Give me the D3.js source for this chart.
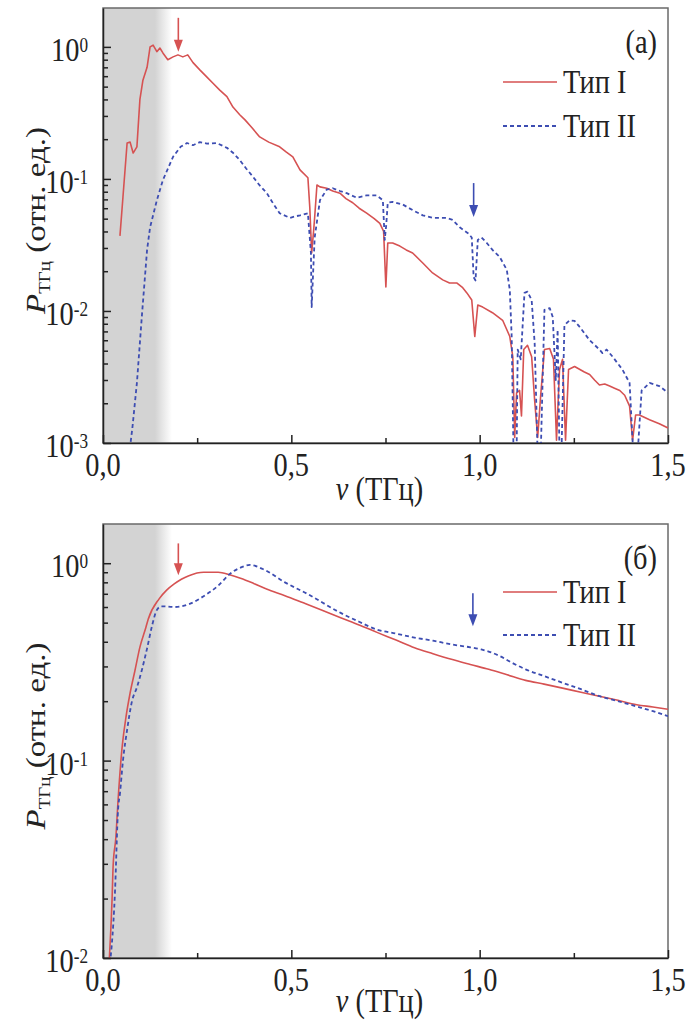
<!DOCTYPE html>
<html>
<head>
<meta charset="utf-8">
<script src="https://cdn.jsdelivr.net/npm/d3@7"></script>
<style>
  body { margin: 0; background: #fff; }
  svg { display: block; }
</style>
</head>
<body>
<div id="container"></div>
<script>
let w = 687;
let h = 1021;
let left = 103;
let right = 668;
let serifFont = "'Liberation Serif', 'Times New Roman', Tinos, 'Nimbus Roman'";
let fs = 33;       // font size
let squeeze = 0.86; // the original figure is a bit narrow, so are its letters

// ---- panel (a): spectra, type I (solid red) and type II (dashed blue)
let nuA1 = [0.045,0.053,0.064,0.072,0.080,0.090,0.098,0.106,0.117,0.125,0.133,0.143,0.151,0.159,0.172,0.186,0.199,0.212,0.225,0.239,0.257,0.276,0.292,0.310,0.329,0.345,0.363,0.377,0.395,0.416,0.440,0.469,0.486,0.504,0.523,0.544,0.549,0.554,0.559,0.562,0.568,0.576,0.594,0.610,0.629,0.645,0.663,0.680,0.700,0.720,0.735,0.745,0.751,0.756,0.769,0.788,0.805,0.822,0.849,0.875,0.902,0.920,0.939,0.955,0.966,0.979,0.987,0.995,1.008,1.034,1.061,1.080,1.088,1.093,1.098,1.106,1.111,1.117,1.127,1.138,1.146,1.154,1.162,1.172,1.186,1.196,1.204,1.212,1.220,1.228,1.236,1.252,1.278,1.292,1.305,1.318,1.332,1.345,1.358,1.372,1.385,1.398,1.406,1.414,1.424,1.451,1.477,1.500];
let pA1 = [0.037,0.073,0.187,0.19,0.157,0.175,0.40,0.56,0.70,1.0,1.03,0.92,0.98,0.90,0.80,0.84,0.87,0.84,0.87,0.76,0.67,0.59,0.53,0.47,0.42,0.35,0.306,0.28,0.245,0.208,0.19,0.175,0.16,0.147,0.117,0.102,0.061,0.0275,0.04,0.0515,0.090,0.087,0.085,0.081,0.078,0.071,0.066,0.060,0.055,0.050,0.046,0.040,0.0152,0.0327,0.0327,0.031,0.029,0.0275,0.0231,0.0194,0.0172,0.0163,0.0163,0.015,0.0137,0.0121,0.0064,0.0111,0.0107,0.0097,0.0085,0.0064,0.0045,0.0011,0.0024,0.0025,0.0016,0.0051,0.0055,0.0045,0.0021,0.0011,0.0023,0.0051,0.0052,0.0043,0.00105,0.0036,0.0043,0.00105,0.0036,0.0038,0.00345,0.0033,0.0030,0.00275,0.0028,0.0027,0.0026,0.0025,0.0023,0.0019,0.00105,0.00163,0.00163,0.0015,0.0014,0.0013];

let nuA2 = [0.069,0.078,0.090,0.103,0.117,0.125,0.143,0.159,0.186,0.206,0.223,0.239,0.257,0.276,0.302,0.329,0.345,0.363,0.380,0.398,0.415,0.435,0.452,0.469,0.496,0.510,0.523,0.544,0.552,0.554,0.558,0.562,0.576,0.594,0.610,0.629,0.647,0.674,0.700,0.727,0.743,0.748,0.752,0.756,0.769,0.796,0.822,0.849,0.875,0.912,0.928,0.947,0.968,0.979,0.984,0.989,0.995,1.005,1.019,1.034,1.053,1.072,1.080,1.085,1.090,1.098,1.101,1.109,1.119,1.127,1.138,1.146,1.154,1.162,1.172,1.186,1.194,1.202,1.207,1.212,1.217,1.225,1.239,1.252,1.265,1.292,1.318,1.326,1.337,1.353,1.379,1.398,1.408,1.419,1.430,1.451,1.477,1.500];
let pA2 = [0.0008,0.0013,0.00285,0.009,0.029,0.043,0.069,0.098,0.147,0.175,0.187,0.18,0.19,0.185,0.187,0.172,0.158,0.139,0.12,0.104,0.09,0.078,0.065,0.055,0.0507,0.052,0.053,0.055,0.0275,0.0107,0.02,0.036,0.069,0.083,0.085,0.081,0.078,0.072,0.075,0.075,0.069,0.0345,0.045,0.066,0.067,0.064,0.058,0.053,0.0507,0.0507,0.049,0.043,0.039,0.036,0.018,0.017,0.0345,0.036,0.0327,0.029,0.0257,0.0205,0.0144,0.0064,0.0008,0.0008,0.0051,0.0043,0.0137,0.014,0.0121,0.0057,0.0008,0.0008,0.0102,0.0105,0.009,0.003,0.0072,0.0008,0.0008,0.0078,0.0085,0.0084,0.0076,0.006,0.0051,0.0048,0.0051,0.0045,0.0036,0.00285,0.0008,0.0008,0.0025,0.00285,0.0027,0.0024];

// ---- panel (б)
let nuB1 = [0.014,0.024,0.027,0.034,0.040,0.050,0.061,0.072,0.085,0.098,0.114,0.120,0.149,0.169,0.189,0.208,0.228,0.267,0.306,0.336,0.365,0.400,0.434,0.483,0.532,0.580,0.631,0.680,0.729,0.778,0.827,0.876,0.925,0.975,1.024,1.073,1.122,1.171,1.220,1.269,1.318,1.367,1.417,1.460,1.500];
let pB1 = [0.008,0.0197,0.0296,0.0405,0.063,0.113,0.166,0.22,0.287,0.376,0.474,0.52,0.66,0.73,0.785,0.83,0.865,0.90,0.90,0.875,0.84,0.79,0.74,0.685,0.63,0.58,0.53,0.487,0.445,0.408,0.373,0.348,0.326,0.307,0.29,0.272,0.255,0.244,0.233,0.222,0.212,0.202,0.192,0.187,0.182];

let nuB2 = [0.014,0.032,0.040,0.045,0.053,0.064,0.077,0.090,0.103,0.117,0.130,0.143,0.155,0.189,0.228,0.267,0.306,0.336,0.365,0.390,0.424,0.483,0.542,0.631,0.680,0.729,0.778,0.827,0.876,0.925,0.975,1.004,1.053,1.090,1.122,1.171,1.220,1.269,1.318,1.367,1.417,1.460,1.500];
let pB2 = [0.008,0.022,0.0565,0.068,0.10,0.143,0.20,0.235,0.287,0.37,0.48,0.58,0.605,0.60,0.62,0.68,0.77,0.88,0.95,0.98,0.935,0.80,0.70,0.56,0.505,0.46,0.44,0.42,0.405,0.388,0.375,0.366,0.339,0.31,0.29,0.268,0.248,0.23,0.212,0.20,0.188,0.178,0.168];

let seriesNames = ["Тип I", "Тип II"];
let seriesColors = ["#d65252", "#3d4db2"];
let panelLetters = ["(a)", "(б)"];
let xTicks = [0, 0.5, 1.0, 1.5];
let xMinorTicks = [0.25, 0.75, 1.25];
let shade = [0.138, 0.183]; // grey band fades out between these frequencies

// arrows: frequency, start and end value
let arrowsA = [{nu: 0.2, from: 1.66, to: 0.92, s: 0}, {nu: 0.984, from: 0.093, to: 0.0515, s: 1}];
let arrowsB = [{nu: 0.2, from: 1.26, to: 0.87, s: 0}, {nu: 0.982, from: 0.705, to: 0.48, s: 1}];

let svg = d3.select("#container")
  .append("svg")
    .attr("width", w)
    .attr("height", h)
    .attr("font-family", "Liberation Serif")
    .style("background-color", "white");

// every text goes through here: serif face, squeezed sideways
function addText(parent, tx, ty, transform){
  let holder = parent.append("g")
    .attr("transform", transform || ("translate(" + tx + "," + ty + ") scale(" + squeeze + ",1)"));
  return holder.append("text")
    .attr("font-family", "Liberation Serif")
    .style("font-family", serifFont)
    .attr("font-size", fs)
    .attr("fill", "#222");
}

let x = d3.scaleLinear().domain([0, 1.5]).range([left, right]);

let defs = svg.append("defs");
let grad = defs.append("linearGradient")
  .attr("id", "shadeGrad")
  .attr("gradientUnits", "userSpaceOnUse")
  .attr("x1", x(shade[0])).attr("x2", x(shade[1]))
  .attr("y1", 0).attr("y2", 0);
grad.append("stop").attr("offset", 0).attr("stop-color", "#d3d3d3");
grad.append("stop").attr("offset", 1).attr("stop-color", "#ffffff");

let comma = d3.formatLocale({decimal: ",", thousands: " ", grouping: [3], currency: ["", ""]}).format(".1f");

function drawPanel(cfg, idx){
  let top = cfg.top, bottom = cfg.bottom;
  let y = d3.scaleLog().domain(cfg.yDomain).range([bottom, top]);
  let g = svg.append("g");

  defs.append("clipPath").attr("id", "clip" + idx)
    .append("rect")
      .attr("x", left).attr("y", top)
      .attr("width", right - left).attr("height", bottom - top);

  // grey band
  g.append("rect")
    .attr("x", x(0)).attr("y", top)
    .attr("width", x(shade[1]) - x(0))
    .attr("height", bottom - top)
    .attr("fill", "url(#shadeGrad)");

  // frame
  g.append("rect")
    .attr("x", left).attr("y", top)
    .attr("width", right - left).attr("height", bottom - top)
    .attr("fill", "none")
    .attr("stroke", "#6a6a6a")
    .attr("stroke-width", 1.5);

  // curves
  let line = d3.line()
    .x(function(d){ return x(d[0]); })
    .y(function(d){ return y(d[1]); })
    .curve(cfg.curve);

  let plot = g.append("g").attr("clip-path", "url(#clip" + idx + ")");
  cfg.series.forEach(function(s, i){
    plot.append("path")
      .datum(d3.zip(s[0], s[1]))
      .attr("d", line)
      .attr("fill", "none")
      .attr("stroke", seriesColors[i])
      .attr("stroke-width", i == 0 ? 1.6 : 1.8)
      .attr("stroke-dasharray", i == 0 ? null : "4,3")
      .attr("stroke-linejoin", "round");
  });

  // y axis (log), ticks inward, labels by hand for the superscripts
  let lo = Math.round(Math.log10(cfg.yDomain[0]));
  let majors = [];
  let minors = [];
  for(let k = lo; k <= 0; k++){
    majors.push(Math.pow(10, k));
    for(let m = 2; m <= 9; m++){
      let v = m * Math.pow(10, k);
      if(v < cfg.yDomain[1]) minors.push(v);
    }
  }
  let yAxisGroup = g.append("g").attr("transform", "translate(" + left + ",0)");
  yAxisGroup.call(d3.axisLeft(y).tickValues(majors).tickSizeInner(-8).tickSizeOuter(0).tickFormat(""));
  let yMinorGroup = g.append("g").attr("transform", "translate(" + left + ",0)");
  yMinorGroup.call(d3.axisLeft(y).tickValues(minors).tickSizeInner(-5).tickSizeOuter(0).tickFormat(""));
  yMinorGroup.select(".domain").remove();
  [yAxisGroup, yMinorGroup].forEach(function(a){
    a.selectAll("text").remove();
    a.selectAll("line").attr("stroke", "#222").attr("stroke-width", 1.5);
    a.select(".domain").attr("stroke", "#222").attr("stroke-width", 1.5);
  });
  majors.forEach(function(d){
    let t = addText(g, left - 15, y(d) + 14)
      .attr("text-anchor", "end");
    t.append("tspan").text("10");
    t.append("tspan").attr("dy", "-0.45em").attr("font-size", 20).text(Math.round(Math.log10(d)));
  });

  // x axis, ticks inward
  let xAxisGroup = g.append("g").attr("transform", "translate(0," + bottom + ")");
  xAxisGroup.call(d3.axisBottom(x).tickValues(xTicks).tickSizeInner(-8).tickSizeOuter(0).tickFormat(""));
  let xMinorGroup = g.append("g").attr("transform", "translate(0," + bottom + ")");
  xMinorGroup.call(d3.axisBottom(x).tickValues(xMinorTicks).tickSizeInner(-5).tickSizeOuter(0).tickFormat(""));
  xMinorGroup.select(".domain").remove();
  [xAxisGroup, xMinorGroup].forEach(function(a){
    a.selectAll("text").remove();
    a.selectAll("line").attr("stroke", "#222").attr("stroke-width", 1.5);
    a.select(".domain").attr("stroke", "#222").attr("stroke-width", 1.5);
  });
  xTicks.forEach(function(d){
    addText(g, x(d), bottom + 33)
      .attr("text-anchor", "middle")
      .text(comma(d));
  });

  // axis titles
  let xt = addText(g, (left + right) / 2 - 6, bottom + cfg.titleDy)
    .attr("text-anchor", "middle");
  xt.append("tspan").attr("font-style", "italic").text("ν");
  xt.append("tspan").text(" (ТГц)");

  let yt = addText(g, 0, 0, "translate(45," + ((top + bottom) / 2 - 5) + ") rotate(-90) scale(1," + squeeze + ")")
    .attr("text-anchor", "middle");
  yt.append("tspan").attr("font-style", "italic").text("P");
  yt.append("tspan").attr("font-size", 19).attr("dy", "0.3em").text("ТГц");
  yt.append("tspan").attr("dy", "-0.17em").text(" (отн. ед.)");

  // panel letter
  addText(g, 657, top + 45)
    .attr("text-anchor", "end")
    .text(panelLetters[idx]);

  // legend
  cfg.legendY.forEach(function(ly, i){
    g.append("line")
      .attr("x1", 503).attr("x2", 557)
      .attr("y1", top + ly).attr("y2", top + ly)
      .attr("stroke", seriesColors[i])
      .attr("stroke-width", i == 0 ? 1.6 : 1.8)
      .attr("stroke-dasharray", i == 0 ? null : "4,3");
    addText(g, 563, top + ly + 11)
      .text(seriesNames[i]);
  });

  // arrows
  cfg.arrows.forEach(function(a){
    let ax = x(a.nu), y0 = y(a.from), y1 = y(a.to);
    g.append("line")
      .attr("x1", ax).attr("x2", ax)
      .attr("y1", y0).attr("y2", y1 - 8)
      .attr("stroke", seriesColors[a.s])
      .attr("stroke-width", 1.6);
    g.append("path")
      .attr("d", "M" + (ax - 4.5) + "," + (y1 - 12) + "L" + (ax + 4.5) + "," + (y1 - 12) + "L" + ax + "," + y1 + "Z")
      .attr("fill", seriesColors[a.s]);
  });
}

drawPanel({
  top: 8, bottom: 443,
  yDomain: [0.001, 1.97],
  series: [[nuA1, pA1], [nuA2, pA2]],
  curve: d3.curveLinear,
  legendY: [74, 118],
  titleDy: 57,
  arrows: arrowsA
}, 0);

drawPanel({
  top: 524, bottom: 958,
  yDomain: [0.01, 1.58],
  series: [[nuB1, pB1], [nuB2, pB2]],
  curve: d3.curveMonotoneX,
  legendY: [68, 111],
  titleDy: 54,
  arrows: arrowsB
}, 1);
</script>
</body>
</html>
